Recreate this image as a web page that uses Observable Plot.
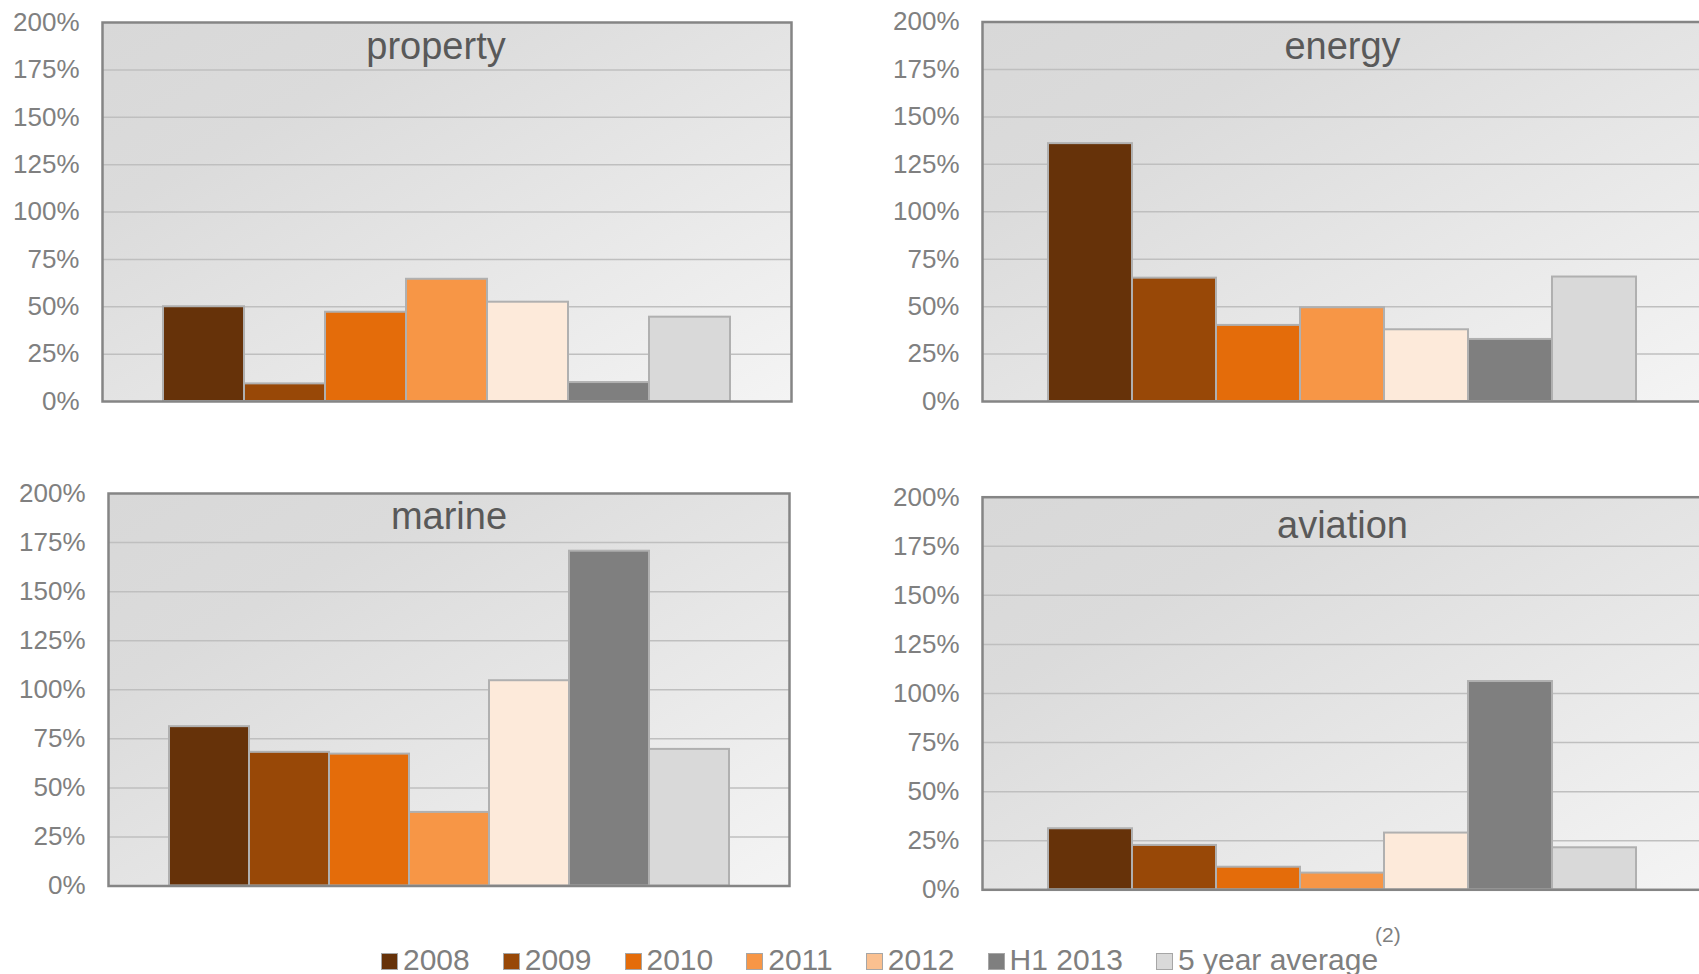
<!DOCTYPE html>
<html>
<head>
<meta charset="utf-8">
<script src="https://cdn.jsdelivr.net/npm/d3@7"></script>
<script src="https://cdn.jsdelivr.net/npm/@observablehq/plot@0.6"></script>
<style>
  html, body { margin: 0; padding: 0; background: #ffffff; }
  body { width: 1699px; height: 974px; overflow: hidden; position: relative; font-family: "Liberation Sans", Arial, sans-serif; }
  .panel { position: absolute; }
  .panel svg { max-width: none !important; }
  #legend { position: absolute; left: 381px; top: 945px; display: flex; align-items: center; font-size: 30px; line-height: 30px; color: #7F7F7F; white-space: nowrap; }
  .item { display: flex; align-items: center; margin-right: 33px; }
  .sw { width: 15px; height: 15px; border: 1px solid #A6A6A6; margin-right: 5px; margin-top: 3px; }
  #note { position: absolute; left: 1375px; top: 924px; font-size: 21px; line-height: 21px; color: #7F7F7F; }
</style>
</head>
<body>
<div id="legend"></div>
<div id="note">(2)</div>
<script>
// ---- data ----
const series = ["2008", "2009", "2010", "2011", "2012", "H1 2013", "5 year average"];
const lines = ["property", "energy", "marine", "aviation"];
const property = [0.50, 0.093, 0.471, 0.645, 0.524, 0.100, 0.445];
const energy   = [1.359, 0.650, 0.401, 0.494, 0.378, 0.327, 0.656];
const marine   = [0.812, 0.681, 0.672, 0.375, 1.046, 1.706, 0.696];
const aviation = [0.311, 0.226, 0.115, 0.085, 0.289, 1.061, 0.214];
const yTicks = [0, 0.25, 0.5, 0.75, 1, 1.25, 1.5, 1.75, 2];

// ---- styles ----
const barColors = ["#663209", "#984807", "#E46C0A", "#F79646", "#FDEADA", "#7F7F7F", "#D9D9D9"];
const legendColors = ["#663209", "#984807", "#E46C0A", "#F79646", "#FAC090", "#7F7F7F", "#D9D9D9"];

const valuesByLine = {property, energy, marine, aviation};

const layout = {
  property: {left: 0,   top: 0,   width: 830, height: 420, mt: 22,   mb: 19,   ml: 102, mr: 39, tdx: -11, tdy: 10},
  energy:   {left: 870, top: 0,   width: 840, height: 420, mt: 21.5, mb: 19,   ml: 112, mr: 8,  tdx: 0,   tdy: 10},
  marine:   {left: 0,   top: 470, width: 830, height: 430, mt: 23,   mb: 14.5, ml: 108, mr: 41, tdx: 0,   tdy: 9},
  aviation: {left: 870, top: 470, width: 840, height: 430, mt: 26.7, mb: 10.7, ml: 112, mr: 8,  tdx: 0,   tdy: 14}
};

lines.forEach((name, i) => {
  const L = layout[name];
  const data = series.map((s, j) => ({series: s, value: valuesByLine[name][j]}));
  const gid = "bg" + i;
  const chart = Plot.plot({
    width: L.width,
    height: L.height,
    marginTop: L.mt,
    marginBottom: L.mb,
    marginLeft: L.ml,
    marginRight: L.mr,
    style: {fontFamily: '"Liberation Sans", Arial, sans-serif', fontSize: "26px", color: "#808080", background: "transparent", overflow: "visible", maxWidth: "none"},
    x: {domain: series, paddingInner: 0, paddingOuter: 0.75, axis: null},
    y: {domain: [0, 2], ticks: yTicks, tickFormat: d => Math.round(d * 100) + "%", tickSize: 0, tickPadding: 23, label: null},
    color: {domain: series, range: barColors},
    marks: [
      Plot.frame({fill: `url(#${gid})`, stroke: "none"}),
      Plot.ruleY(yTicks.slice(1, -1), {stroke: "#BFBFBF", strokeWidth: 1.5}),
      Plot.barY(data, {x: "series", y: "value", fill: "series", stroke: "#B0B0B0", strokeWidth: 2}),
      Plot.frame({stroke: "#858585", strokeWidth: 2.5}),
      Plot.text([name], {frameAnchor: "top", lineAnchor: "top", dx: L.tdx, dy: L.tdy, text: d => d, fontSize: 38, fill: "#595959"})
    ]
  });
  chart.style.maxWidth = "none";
  const svg = d3.select(chart);
  const defs = svg.insert("defs", ":first-child");
  const g = defs.append("linearGradient").attr("id", gid)
    .attr("x1", 0).attr("y1", 0).attr("x2", 1).attr("y2", 1);
  g.append("stop").attr("offset", "0").attr("stop-color", "#D8D8D8");
  g.append("stop").attr("offset", "0.25").attr("stop-color", "#DBDBDB");
  g.append("stop").attr("offset", "1").attr("stop-color", "#F4F4F4");
  const wrap = document.createElement("div");
  wrap.className = "panel";
  wrap.style.left = L.left + "px";
  wrap.style.top = L.top + "px";
  wrap.style.width = L.width + "px";
  wrap.style.height = L.height + "px";
  wrap.appendChild(chart);
  document.body.appendChild(wrap);
});

// ---- legend ----
const legend = d3.select("#legend");
series.forEach((s, j) => {
  const it = legend.append("div").attr("class", "item");
  it.append("div").attr("class", "sw").style("background", legendColors[j]);
  it.append("span").text(s);
});
</script>
</body>
</html>
